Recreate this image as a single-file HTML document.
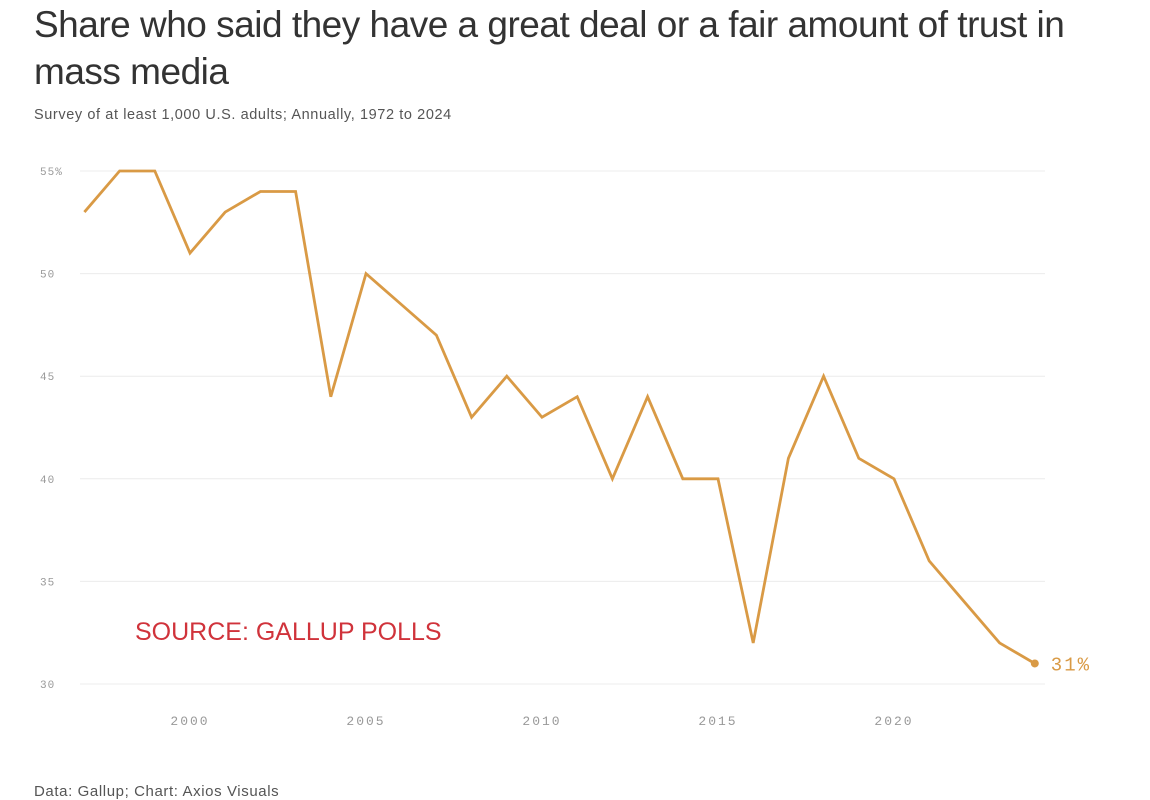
<!DOCTYPE html>
<html><head><meta charset="utf-8">
<style>
html,body{margin:0;padding:0;background:#fff;width:1150px;height:800px;overflow:hidden;font-family:"Liberation Sans",sans-serif;}
#title{position:absolute;left:34px;top:1px;font-size:37px;line-height:47px;color:#333;letter-spacing:-0.5px;white-space:nowrap;}
#sub{position:absolute;left:34px;top:107px;font-size:14.5px;color:#555;letter-spacing:0.6px;}
#foot{position:absolute;left:34px;top:783px;font-size:15px;color:#555;letter-spacing:0.6px;}
#src{position:absolute;left:135px;top:618px;font-size:25px;color:#d0333b;}
svg{position:absolute;left:0;top:0;}
</style></head><body>
<div id="title">Share who said they have a great deal or a fair amount of trust in<br>mass media</div>
<div id="sub">Survey of at least 1,000 U.S. adults; Annually, 1972 to 2024</div>
<svg id="chart" width="1150" height="800"></svg>
<div id="src">SOURCE: GALLUP POLLS</div>
<div id="foot">Data: Gallup; Chart: Axios Visuals</div>
<script>
const years=[1997,1998,1999,2000,2001,2002,2003,2004,2005,2006,2007,2008,2009,2010,2011,2012,2013,2014,2015,2016,2017,2018,2019,2020,2021,2022,2023,2024];
const values=[53,55,55,51,53,54,54,44,50,48.5,47,43,45,43,44,40,44,40,40,32,41,45,41,40,36,34,32,31];
const yTicks=[30,35,40,45,50,55];
const yTickLabels=["30","35","40","45","50","55%"];
const xTicks=[2000,2005,2010,2015,2020];
const xTickLabels=["2000","2005","2010","2015","2020"];
const NS="http://www.w3.org/2000/svg";
const svg=document.getElementById('chart');
const x=v=>84.4+(v-1997)*35.2;
const y=v=>684-(v-30)*20.52;
function mk(t,a){const e=document.createElementNS(NS,t);for(const k in a)e.setAttribute(k,a[k]);svg.appendChild(e);return e;}
yTicks.forEach((t,i)=>{
  const g=mk('line',{x1:80,x2:1045,y1:y(t),y2:y(t),stroke:'#ececec','stroke-width':1});
  
  
  const l=mk('text',{x:40,y:y(t)+4,'font-size':11,fill:'#999','letter-spacing':1,'font-family':'Liberation Mono, monospace'});
  l.textContent=yTickLabels[i];
  
  
});
xTicks.forEach((t,i)=>{
  const l=mk('text',{x:x(t),y:725,'font-size':13,fill:'#999','text-anchor':'middle','letter-spacing':2,'font-family':'Liberation Mono, monospace'});
  l.textContent=xTickLabels[i];
  
  
});
const p=mk('polyline',{points:years.map((yr,i)=>x(yr)+','+y(values[i])).join(' '),fill:'none',stroke:'#d99a45','stroke-width':2.8,'stroke-linejoin':'miter'});


const n=years.length-1;
const d=mk('circle',{cx:x(years[n]),cy:y(values[n]),r:4,fill:'#d99a45'});


const lt=mk('text',{x:x(years[n])+16,y:y(values[n])+7,'font-size':19,fill:'#d99a45','letter-spacing':2,'font-family':'Liberation Mono, monospace'});
lt.textContent=values[n]+'%';


</script>
</body></html>
